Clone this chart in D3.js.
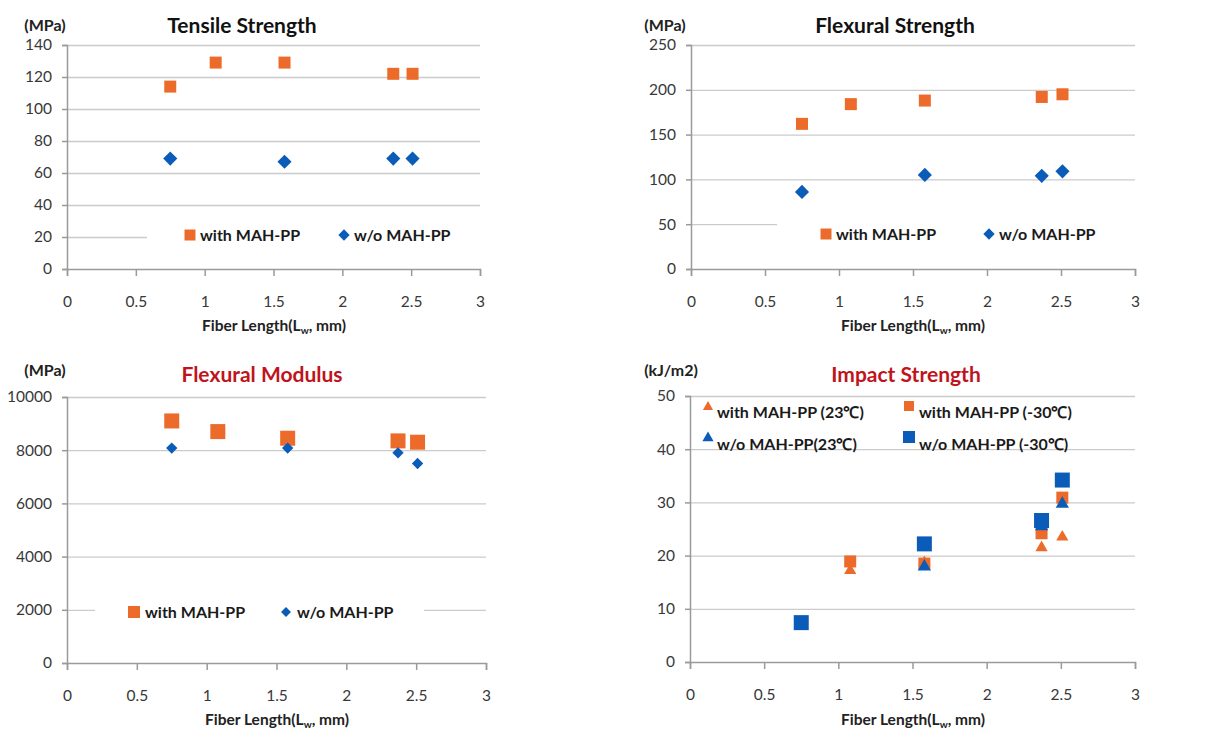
<!DOCTYPE html>
<html>
<head>
<meta charset="utf-8">
<script src="https://cdn.jsdelivr.net/npm/d3@7"></script>
<style>
	body { margin: 0; background: #fff; }
	text { font-family: Lato, "Open Sans", sans-serif; }
</style>
</head>
<body>
<svg id="svg"></svg>
<script>
var width = 1226, height = 731;

// fiber length (Lw, mm) of the five samples
var fiberLen = [0.75, 1.08, 1.58, 2.37, 2.51];
var xTicks = [0, 0.5, 1, 1.5, 2, 2.5, 3];

var tensileWith = [114, 129, 129, 122, 122];
var tensileWithout = [69, null, 67, 69, 69];
var tensileTicks = [0, 20, 40, 60, 80, 100, 120, 140];

var flexStrWith = [162, 184, 188, 192, 195];
var flexStrWithout = [86, null, 105, 104, 109];
var flexStrTicks = [0, 50, 100, 150, 200, 250];

var flexModWith = [9100, 8700, 8450, 8350, 8300];
var flexModWithout = [8080, null, 8080, 7900, 7500];
var flexModTicks = [0, 2000, 4000, 6000, 8000, 10000];

var impactWith23 = [7.0, 17.2, 18.7, 21.5, 23.5];
var impactWith30 = [7.3, 18.9, 18.5, 24.2, 30.9];
var impactWo23 = [7.0, null, 17.9, 25.5, 29.7];
var impactWo30 = [7.4, null, 22.2, 26.6, 34.2];
var impactTicks = [0, 10, 20, 30, 40, 50];

var orange = "#ec6a2a", blue = "#0b5cb8", red = "#c0141c";

var svg = d3.select("#svg")
	.attr("width", width)
	.attr("height", height);

function marker(shape, size)
{
	if (shape == "triangle") return d3.symbol().type(d3.symbolTriangle).size(size * size * 0.45)();
	return d3.symbol().type(d3.symbolSquare).size(size * size)();
}

function drawMarker(g, shape, size, color, cx, cy)
{
	var rot = shape == "diamond" ? " rotate(45)" : "";
	g.append("path")
		.attr("d", marker(shape, size))
		.attr("transform", "translate(" + cx + "," + cy + ")" + rot)
		.style("fill", color);
}

function panel(p)
{
	var x = d3.scaleLinear().domain([0, 3]).range([p.x0, p.x1]);
	var y = d3.scaleLinear().domain([0, p.yMax]).range([p.yBot, p.yTop]);
	var g = svg.append("g");

	// gridlines
	g.append("g")
		.attr("transform", "translate(" + p.x0 + ",0)")
		.call(d3.axisLeft(y).tickValues(p.yTicks.slice(1)).tickSize(-(p.x1 - p.x0)).tickFormat(""))
		.call(function(s) {
			s.select(".domain").remove();
			s.selectAll("line").attr("stroke", "#cbcbcb").attr("stroke-width", 1.3);
		});

	// legend background hides part of a gridline
	p.legendBoxes.forEach(function(b) {
		g.append("rect")
			.attr("x", b[0]).attr("y", b[1]).attr("width", b[2]).attr("height", b[3])
			.style("fill", "#fff");
	});

	var yAxis = g.append("g")
		.attr("transform", "translate(" + p.x0 + ",0)")
		.call(d3.axisLeft(y).tickValues(p.yTicks).tickSize(5).tickPadding(10).tickFormat(d3.format("d")));
	var xAxis = g.append("g")
		.attr("transform", "translate(0," + p.yBot + ")")
		.call(d3.axisBottom(x).tickValues(xTicks).tickSize(7).tickPadding(20).tickFormat(d3.format("")));
	[yAxis, xAxis].forEach(function(a) {
		a.select(".domain").attr("stroke", "#9a9a9a").attr("stroke-width", 1.5);
		a.selectAll("line").attr("stroke", "#9a9a9a").attr("stroke-width", 1.5);
		a.selectAll("text").attr("fill", "#383838").style("font-size", "15.5px").style("font-family", "Lato");
	});

	// data points
	p.series.forEach(function(s) {
		s.values.forEach(function(v, i) {
			if (v == null) return;
			drawMarker(g, s.shape, s.size, s.color, x(fiberLen[i]), y(v));
		});
	});

	// title and units
	g.append("text")
		.attr("x", p.titleX).attr("y", p.titleY)
		.attr("text-anchor", "middle")
		.style("font-size", "21px").style("font-weight", "bold")
		.style("fill", p.titleColor)
		.text(p.title);
	g.append("text")
		.attr("x", p.unitX).attr("y", p.unitY)
		.attr("text-anchor", "middle")
		.style("font-size", "16px").style("font-weight", "bold")
		.style("fill", "#222")
		.text(p.unit);

	var xt = g.append("text")
		.attr("x", p.xTitleX).attr("y", p.xTitleY)
		.attr("text-anchor", "middle")
		.style("font-size", "15.5px").style("font-weight", "bold")
		.style("fill", "#222");
	xt.append("tspan").text("Fiber Length(L");
	xt.append("tspan").attr("dy", 3).style("font-size", "10px").text("w");
	xt.append("tspan").attr("dy", -3).text(", mm)");

	// legend entries
	p.legend.forEach(function(l) {
		drawMarker(g, l.shape, l.size, l.color, l.mx, l.my);
		g.append("text")
			.attr("x", l.tx).attr("y", l.ty)
			.style("font-size", l.fs + "px").style("font-weight", "bold")
			.style("fill", "#1a1a1a")
			.text(l.label);
	});
}

panel({
	x0: 67, x1: 480, yTop: 45, yBot: 269, yMax: 140, yTicks: tensileTicks,
	title: "Tensile Strength", titleX: 242, titleY: 33, titleColor: "#111",
	unit: "(MPa)", unitX: 45, unitY: 31, xTitleX: 274, xTitleY: 331,
	legendBoxes: [[147, 226, 335, 20]],
	series: [
		{values: tensileWith, shape: "square", size: 12, color: orange},
		{values: tensileWithout, shape: "diamond", size: 10, color: blue}
	],
	legend: [
		{shape: "square", size: 11, color: orange, mx: 190, my: 235, tx: 200, ty: 241, fs: 16, label: "with MAH-PP"},
		{shape: "diamond", size: 8, color: blue, mx: 344, my: 235, tx: 354, ty: 241, fs: 16, label: "w/o MAH-PP"}
	]
});

panel({
	x0: 691, x1: 1135, yTop: 45, yBot: 269, yMax: 250, yTicks: flexStrTicks,
	title: "Flexural Strength", titleX: 895, titleY: 33, titleColor: "#111",
	unit: "(MPa)", unitX: 665, unitY: 31, xTitleX: 913, xTitleY: 331,
	legendBoxes: [[777, 214, 360, 20]],
	series: [
		{values: flexStrWith, shape: "square", size: 12, color: orange},
		{values: flexStrWithout, shape: "diamond", size: 10, color: blue}
	],
	legend: [
		{shape: "square", size: 11, color: orange, mx: 826, my: 234, tx: 836, ty: 240, fs: 16, label: "with MAH-PP"},
		{shape: "diamond", size: 8, color: blue, mx: 989, my: 234, tx: 999, ty: 240, fs: 16, label: "w/o MAH-PP"}
	]
});

panel({
	x0: 67, x1: 486, yTop: 397, yBot: 663, yMax: 10000, yTicks: flexModTicks,
	title: "Flexural Modulus", titleX: 262, titleY: 382, titleColor: red,
	unit: "(MPa)", unitX: 45, unitY: 376, xTitleX: 277, xTitleY: 725,
	legendBoxes: [[95, 600, 329, 22]],
	series: [
		{values: flexModWith, shape: "square", size: 15, color: orange},
		{values: flexModWithout, shape: "diamond", size: 8, color: blue}
	],
	legend: [
		{shape: "square", size: 12, color: orange, mx: 134, my: 612, tx: 145, ty: 618, fs: 16, label: "with MAH-PP"},
		{shape: "diamond", size: 7, color: blue, mx: 286, my: 612, tx: 297, ty: 618, fs: 16, label: "w/o MAH-PP"}
	]
});

panel({
	x0: 690, x1: 1135, yTop: 396, yBot: 662, yMax: 50, yTicks: impactTicks,
	title: "Impact Strength", titleX: 906, titleY: 382, titleColor: red,
	unit: "(kJ/m2)", unitX: 671, unitY: 376, xTitleX: 913, xTitleY: 725,
	legendBoxes: [],
	series: [
		{values: impactWith23, shape: "triangle", size: 12, color: orange},
		{values: impactWith30, shape: "square", size: 12, color: orange},
		{values: impactWo23, shape: "triangle", size: 13, color: blue},
		{values: impactWo30, shape: "square", size: 15, color: blue}
	],
	legend: [
		{shape: "triangle", size: 10, color: orange, mx: 708, my: 407, tx: 717, ty: 418, fs: 16, label: "with MAH-PP (23\u2103)"},
		{shape: "square", size: 10, color: orange, mx: 909, my: 406, tx: 919, ty: 418, fs: 16, label: "with MAH-PP (-30\u2103)"},
		{shape: "triangle", size: 11, color: blue, mx: 708, my: 438, tx: 717, ty: 450, fs: 16, label: "w/o MAH-PP(23\u2103)"},
		{shape: "square", size: 12, color: blue, mx: 909, my: 437, tx: 919, ty: 450, fs: 16, label: "w/o MAH-PP (-30\u2103)"}
	]
});
</script>
</body>
</html>
